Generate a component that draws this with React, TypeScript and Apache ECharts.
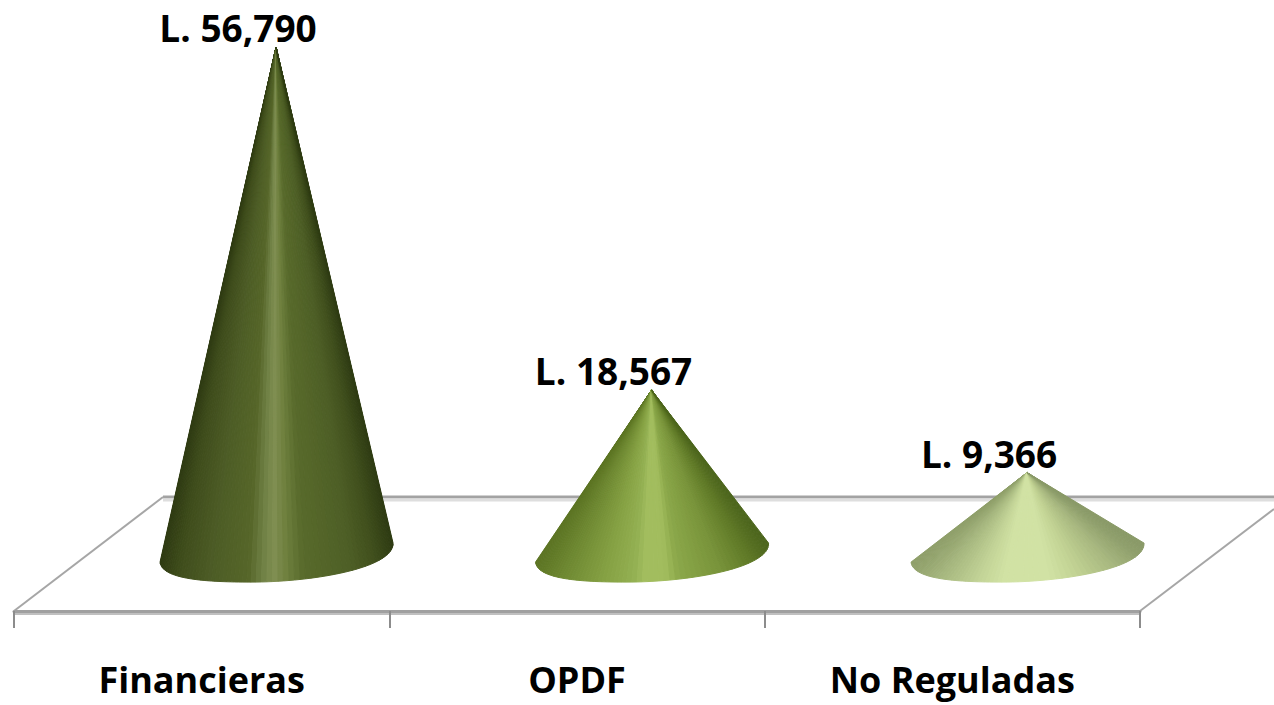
import React, { useEffect, useRef } from "react";
import * as echarts from "echarts";

const categories = ["Financieras", "OPDF", "No Reguladas"];
const values = [56790, 18567, 9366];

type Stop = [number, string];
const shades: Stop[][] = [
  [[0, "#2f3b13"], [0.08, "#3f4d1c"], [0.22, "#4d5c26"], [0.38, "#566629"], [0.44, "#6f8044"], [0.49, "#808f52"], [0.54, "#70813f"], [0.62, "#586a2b"], [0.82, "#4e5f26"], [0.93, "#3f4e1c"], [1, "#2f3c13"]],
  [[0, "#5c7423"], [0.1, "#6c8630"], [0.3, "#86a244"], [0.42, "#93b052"], [0.47, "#a2bd5e"], [0.56, "#a2bd5e"], [0.62, "#8ba84a"], [0.8, "#78933a"], [0.92, "#617b28"], [1, "#4d661d"]],
  [[0, "#8f9f6a"], [0.12, "#a5b67e"], [0.3, "#c4d598"], [0.4, "#d1e2a4"], [0.6, "#d1e2a4"], [0.72, "#c1d293"], [0.88, "#a6b67e"], [1, "#8a9a68"]],
];

const WEDGES = 70;
const HALF_LEFT = -116;
const HALF_WIDTH = 233;
const BASE_LEFT: [number, number][] = [[-116, 5.5], [-114, 22], [-75, 25.5], [-25, 25.5]];
const BASE_RIGHT: [number, number][] = [[-25, 25.5], [35, 25.5], [118, 12], [117, -13.5]];

function hexToRgb(h: string): number[] {
  return [1, 3, 5].map((i) => parseInt(h.slice(i, i + 2), 16));
}

function shadeAt(stops: Stop[], f: number): string {
  for (let i = 1; i < stops.length; i++) {
    if (f <= stops[i][0]) {
      const [f0, c0] = stops[i - 1];
      const [f1, c1] = stops[i];
      const k = (f - f0) / (f1 - f0);
      const a = hexToRgb(c0);
      const b = hexToRgb(c1);
      return `rgb(${a.map((v, j) => Math.round(v + (b[j] - v) * k)).join(",")})`;
    }
  }
  return stops[stops.length - 1][1];
}

function cubic(P: [number, number][], t: number): [number, number] {
  const u = 1 - t;
  const w = [u * u * u, 3 * u * u * t, 3 * u * t * t, t * t * t];
  return [
    w.reduce((s, v, i) => s + v * P[i][0], 0),
    w.reduce((s, v, i) => s + v * P[i][1], 0),
  ];
}

function basePoint(t: number): [number, number] {
  return t < 0.5 ? cubic(BASE_LEFT, t * 2) : cubic(BASE_RIGHT, t * 2 - 1);
}

function renderCone(params: any, api: any) {
  const idx = params.dataIndex;
  const value = api.value(1);
  const apex = api.coord([api.value(0), value]);
  const foot = api.coord([api.value(0), 0]);
  const children: any[] = [];
  for (let i = 0; i < WEDGES; i++) {
    const a = basePoint(i / WEDGES);
    const b = basePoint((i + 1) / WEDGES);
    const f = ((a[0] + b[0]) / 2 - HALF_LEFT) / HALF_WIDTH;
    const color = shadeAt(shades[idx], f);
    children.push({
      type: "polygon",
      shape: {
        points: [
          [apex[0], apex[1]],
          [foot[0] + a[0], foot[1] + a[1]],
          [foot[0] + b[0], foot[1] + b[1]],
        ],
      },
      style: { fill: color, stroke: color, lineWidth: 1 },
    });
  }
  children.push({
    type: "text",
    style: {
      text: "L. " + value.toLocaleString("en-US"),
      x: apex[0] - 38,
      y: apex[1] - 1,
      align: "center",
      verticalAlign: "bottom",
      font: "bold 37px 'Open Sans'",
      fill: "#000000",
    },
  });
  return { type: "group", children };
}

export default function App() {
  const ref = useRef<HTMLDivElement>(null);
  useEffect(() => {
    document.body.style.margin = "0";
    const chart = echarts.init(ref.current!, null, { renderer: "svg" });
    const line = (points: number[][], color: string, width: number) => ({
      type: "polyline",
      z: 0,
      shape: { points },
      style: { stroke: color, lineWidth: width, fill: "none" },
    });
    chart.setOption({
      animation: false,
      backgroundColor: "#ffffff",
      grid: [
        { left: 88.3, width: 1126.5, top: 18.2, height: 538.4 },
        { left: 14, width: 1126, top: 600, height: 11 },
      ],
      xAxis: [
        { type: "category", gridIndex: 0, data: categories, show: false },
        {
          type: "category",
          gridIndex: 1,
          data: categories,
          axisLine: { lineStyle: { color: "#a0a0a0", width: 3 } },
          axisTick: { show: true, length: 17, lineStyle: { color: "#8c8c8c", width: 2 } },
          axisLabel: { margin: 50, fontFamily: "Open Sans", fontWeight: "bold", fontSize: 36, color: "#000000" },
        },
      ],
      yAxis: [
        { type: "value", gridIndex: 0, min: 0, max: 60000, interval: 10000, show: false },
        { type: "value", gridIndex: 1, show: false },
      ],
      graphic: [
        line([[163, 497], [1274, 497]], "#a3a3a3", 3),
        line([[163, 500], [1274, 500]], "#dedede", 3),
        line([[14, 614], [1140, 614]], "#c0c0c0", 2),
        line([[14, 611], [163, 497]], "#a6a6a6", 2),
        line([[1140, 611], [1274, 509]], "#a6a6a6", 2),
      ],
      series: [
        {
          type: "custom",
          xAxisIndex: 0,
          yAxisIndex: 0,
          clip: false,
          silent: true,
          data: values.map((v, i) => [i, v]),
          renderItem: renderCone,
        },
      ],
    });
    return () => chart.dispose();
  }, []);
  return <div ref={ref} style={{ width: 1274, height: 705, overflow: "hidden" }} />;
}
